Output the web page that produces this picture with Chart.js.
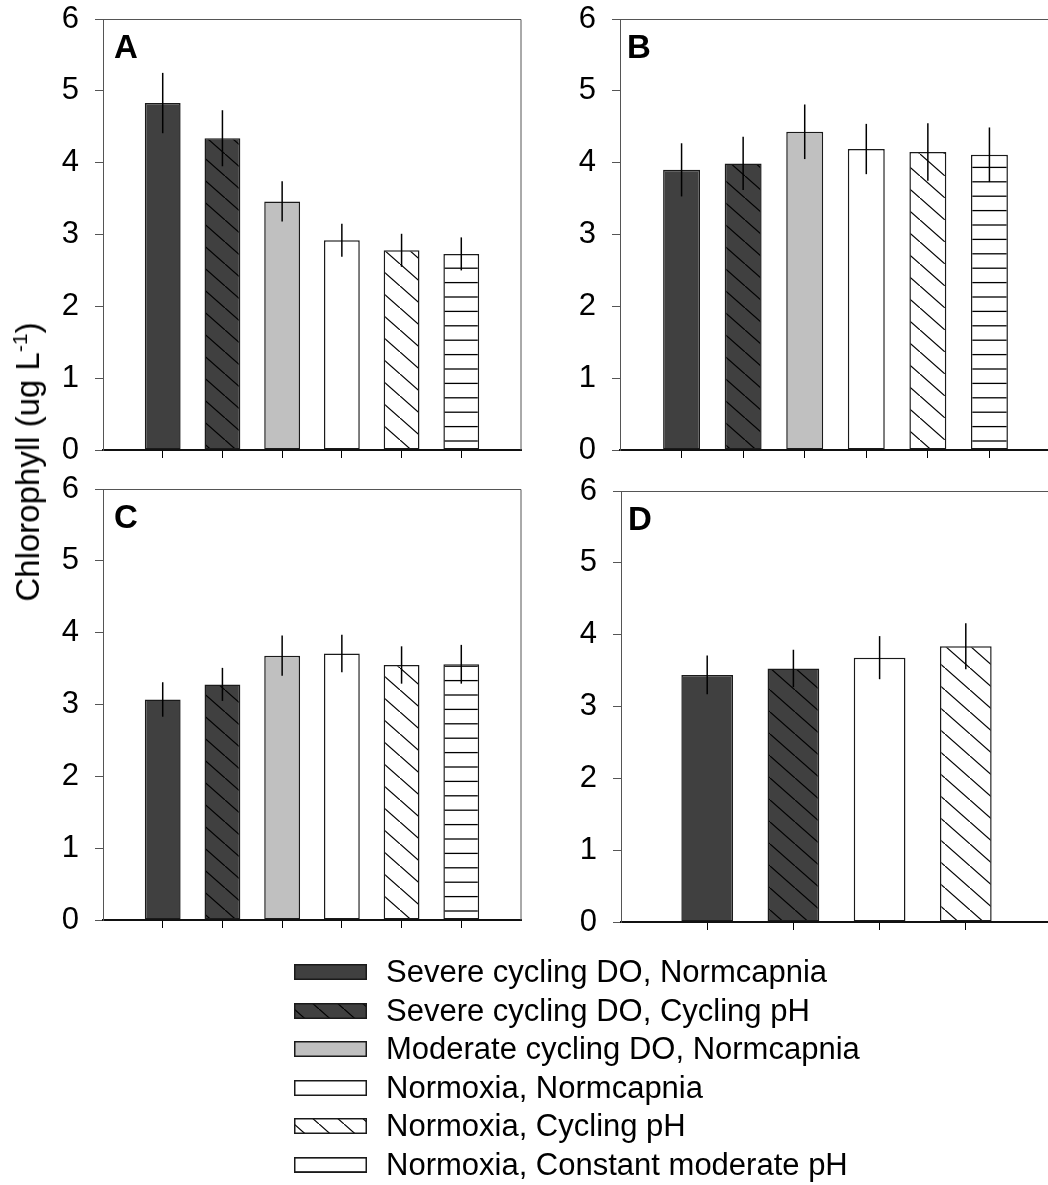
<!DOCTYPE html>
<html>
<head>
<meta charset="utf-8">
<script src="https://cdn.jsdelivr.net/npm/chart.js@4.4.0/dist/chart.umd.min.js"></script>
<style>
  body { margin: 0; width: 1048px; height: 1185px; overflow: hidden; background: #fff;
         position: relative; font-family: "Liberation Sans", Arial, sans-serif; color: #000; }
  canvas.panel { position: absolute; }
  #ytitle { position: absolute; left: 28px; top: 462px; white-space: nowrap; font-size: 33px;
            transform: translate(-50%, -50%) rotate(-90deg); }
  #ytitle sup { font-size: 21px; vertical-align: 12px; line-height: 0; }
  #legend { position: absolute; left: 294px; top: 953px; }
  .row { display: flex; align-items: center; height: 38.5px; font-size: 31px; white-space: nowrap; }
  .row canvas { margin-right: 19px; }
</style>
</head>
<body>
<canvas id="panelA" class="panel" width="540" height="470" style="left:0;top:0"></canvas>
<canvas id="panelB" class="panel" width="560" height="470" style="left:520px;top:0"></canvas>
<canvas id="panelC" class="panel" width="540" height="470" style="left:0;top:470px"></canvas>
<canvas id="panelD" class="panel" width="560" height="470" style="left:520px;top:470px"></canvas>
<div id="ytitle">Chlorophyll (ug L<sup>-1</sup>)</div>
<div id="legend"></div>

<script>
// --- data ---
const treatments = [
  "Severe cycling DO, Normcapnia",
  "Severe cycling DO, Cycling pH",
  "Moderate cycling DO, Normcapnia",
  "Normoxia, Normcapnia",
  "Normoxia, Cycling pH",
  "Normoxia, Constant moderate pH",
];
const yTicks = [0, 1, 2, 3, 4, 5, 6];

const meansA = [4.83, 4.34, 3.46, 2.92, 2.78, 2.73];
const errorsA = [0.42, 0.39, 0.28, 0.23, 0.23, 0.23];
const meansB = [3.90, 3.99, 4.43, 4.19, 4.15, 4.11];
const errorsB = [0.37, 0.37, 0.38, 0.35, 0.40, 0.38];
const meansC = [3.07, 3.28, 3.68, 3.71, 3.55, 3.56];
const errorsC = [0.24, 0.23, 0.28, 0.26, 0.26, 0.27];
const treatmentsD = [treatments[0], treatments[1], treatments[3], treatments[4]];
const meansD = [3.44, 3.53, 3.68, 3.84];
const errorsD = [0.27, 0.26, 0.30, 0.32];

// --- fills (solid grey or hatched) ---
const DARK = "#404040";
const LIGHT = "#c0c0c0";

function diagonalPattern(bg) {
  const c = document.createElement("canvas");
  c.width = 25; c.height = 22;
  const g = c.getContext("2d");
  g.fillStyle = bg; g.fillRect(0, 0, 25, 22);
  g.strokeStyle = "#000"; g.lineWidth = 1.2;
  g.beginPath();
  g.moveTo(-2, -2 * 22 / 25); g.lineTo(27, 22 + 2 * 22 / 25);
  g.stroke();
  return g.createPattern(c, "repeat");
}

function horizontalPattern() {
  const c = document.createElement("canvas");
  c.width = 8; c.height = 72;
  const g = c.getContext("2d");
  g.fillStyle = "#fff"; g.fillRect(0, 0, 8, 72);
  g.strokeStyle = "#000"; g.lineWidth = 1.3;
  for (let k = 0; k < 5; k++) {
    const y = 9 + k * 14.4;
    g.beginPath(); g.moveTo(0, y); g.lineTo(8, y); g.stroke();
  }
  return g.createPattern(c, "repeat");
}

const fills = [
  DARK,
  diagonalPattern(DARK),
  LIGHT,
  "#fff",
  diagonalPattern("#fff"),
  horizontalPattern(),
];

Chart.defaults.font.family = '"Liberation Sans", Arial, sans-serif';
Chart.defaults.color = "#000";

// error bars drawn from each bar's own scale position
const errorBars = {
  id: "errorBars",
  afterDatasetsDraw(chart) {
    const ds = chart.data.datasets[0];
    const y = chart.scales.y;
    const ctx = chart.ctx;
    ctx.save();
    ctx.strokeStyle = "#000";
    ctx.lineWidth = 1.5;
    chart.getDatasetMeta(0).data.forEach((bar, i) => {
      const v = ds.data[i];
      if (v == null) return;
      ctx.beginPath();
      ctx.moveTo(bar.x, y.getPixelForValue(v + ds.errors[i]));
      ctx.lineTo(bar.x, y.getPixelForValue(v - ds.errors[i]));
      ctx.stroke();
    });
    ctx.restore();
  },
};

// top / right frame lines and the panel letter
const frame = {
  id: "frame",
  afterDraw(chart, args, opts) {
    const { ctx, chartArea: a } = chart;
    ctx.save();
    ctx.strokeStyle = "#555";
    ctx.lineWidth = 1;
    ctx.beginPath();
    ctx.moveTo(a.left, a.top + 0.5);
    ctx.lineTo(a.right, a.top + 0.5);
    ctx.lineTo(a.right, a.bottom);
    ctx.stroke();
    ctx.fillStyle = "#000";
    ctx.font = 'bold 33px "Liberation Sans", Arial, sans-serif';
    ctx.textBaseline = "alphabetic";
    ctx.fillText(opts.letter, a.left + opts.dx, a.top + 39);
    ctx.restore();
  },
};

function makePanel(id, letter, labels, means, errors, fillIdx, box) {
  const n = labels.length + 2;
  new Chart(document.getElementById(id), {
    type: "bar",
    data: {
      labels: ["", ...labels, ""],
      datasets: [{
        data: [null, ...means, null],
        errors: [null, ...errors, null],
        backgroundColor: [null, ...fillIdx.map(i => fills[i]), null],
        borderColor: "#1a1a1a",
        borderWidth: 1.5,
        borderSkipped: false,
        barPercentage: 0.6,
        categoryPercentage: 1,
      }],
    },
    options: {
      responsive: false,
      animation: false,
      events: [],
      layout: { padding: { top: box.top, right: box.right, left: 0, bottom: 0 } },
      scales: {
        x: {
          offset: false,
          afterFit: s => { s.height = box.xh; s.paddingLeft = 0; s.paddingRight = 0; },
          ticks: { display: false, autoSkip: false },
          grid: {
            offset: false,
            drawOnChartArea: false,
            drawTicks: true,
            tickLength: 8,
            color: c => (c.index === 0 || c.index === n - 1) ? "rgba(0,0,0,0)" : "#000",
          },
          border: { color: "#111", width: 2 },
        },
        y: {
          min: yTicks[0],
          max: yTicks[yTicks.length - 1],
          afterFit: s => { s.width = box.left; s.paddingTop = 0; s.paddingBottom = 0; },
          ticks: { stepSize: 1, padding: 16, font: { size: 31 }, color: "#000" },
          grid: { drawOnChartArea: false, drawTicks: true, tickLength: 8, color: "#555" },
          border: { color: "#555", width: 1 },
        },
      },
      plugins: {
        legend: { display: false },
        tooltip: { enabled: false },
        frame: { letter: letter, dx: box.dx },
      },
    },
    plugins: [errorBars, frame],
  });
}

makePanel("panelA", "A", treatments, meansA, errorsA, [0, 1, 2, 3, 4, 5],
  { left: 103, top: 19, right: 19, xh: 20, dx: 11 });
makePanel("panelB", "B", treatments, meansB, errorsB, [0, 1, 2, 3, 4, 5],
  { left: 100, top: 19, right: 29, xh: 20, dx: 7 });
makePanel("panelC", "C", treatments, meansC, errorsC, [0, 1, 2, 3, 4, 5],
  { left: 103, top: 19, right: 19, xh: 20, dx: 11 });
makePanel("panelD", "D", treatmentsD, meansD, errorsD, [0, 1, 3, 4],
  { left: 101, top: 21, right: 28, xh: 18, dx: 7 });

// --- legend ---
const legend = document.getElementById("legend");
treatments.forEach((name, i) => {
  const row = document.createElement("div");
  row.className = "row";
  const sw = document.createElement("canvas");
  sw.width = 73; sw.height = 16;
  const g = sw.getContext("2d");
  g.save();
  g.translate(0, 6); // push the striped swatch's line onto its bottom edge
  g.fillStyle = fills[i];
  g.fillRect(0, -6, 73, 16);
  g.restore();
  g.strokeStyle = "#1a1a1a"; g.lineWidth = 1.5;
  g.strokeRect(0.75, 0.75, 71.5, 14.5);
  row.appendChild(sw);
  const t = document.createElement("span");
  t.textContent = name;
  row.appendChild(t);
  legend.appendChild(row);
});
</script>
</body>
</html>
